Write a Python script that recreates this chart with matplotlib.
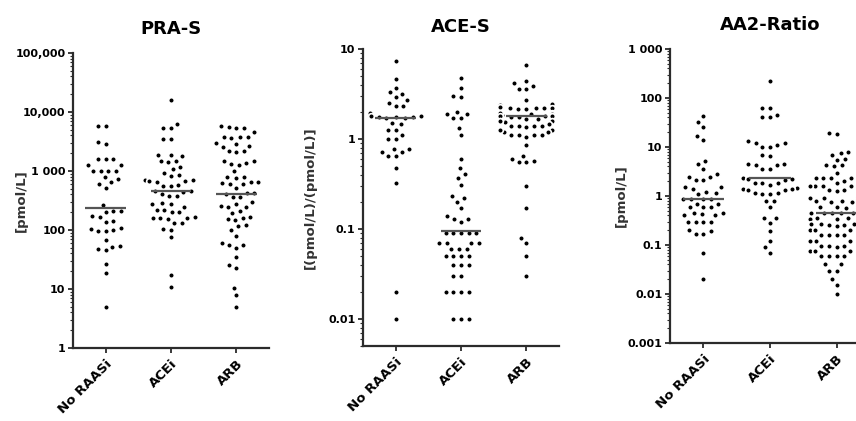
import numpy as np
import pandas as pd
import matplotlib
matplotlib.use("Agg")
import matplotlib.pyplot as plt
import matplotlib.ticker as mticker
import seaborn as sns

plt.rcParams['font.family'] = ['DejaVu Sans']
plt.rcParams['font.weight'] = 'bold'

groups = ["No RAASi", "ACEi", "ARB"]

# PRA-S [pmol/L]
pra_no = [5900, 5700, 3150, 2900, 1600, 1600, 1600, 1250, 1250, 1000, 1000, 1000, 1000,
          780, 720, 650, 600, 520, 270, 210, 210, 205, 170, 165, 140, 135, 110, 105, 100,
          95, 95, 68, 53, 48, 52, 45, 27, 19, 5]
pra_ace = [15800, 6300, 5300, 5300, 3500, 3500, 1850, 1780, 1900, 1500, 1450, 1400, 1150,
           1100, 940, 860, 830, 700, 700, 690, 670, 650, 590, 550, 550, 460, 450, 440, 410,
           370, 370, 290, 280, 280, 250, 220, 220, 200, 200, 165, 160, 160, 160, 155, 130,
           130, 105, 100, 75, 17, 11]
pra_arb = [5800, 5500, 5400, 5300, 4500, 3800, 3800, 3700, 3600, 3000, 2900, 2700, 2600,
           2200, 2150, 2100, 1500, 1500, 1350, 1300, 1250, 1000, 800, 780, 760, 650, 640,
           620, 600, 600, 520, 430, 420, 410, 360, 360, 300, 280, 260, 250, 250, 210, 195,
           165, 160, 155, 150, 120, 115, 100, 80, 60, 55, 55, 49, 35, 26, 23, 10.5, 8, 5]
pra_median = [240, 450, 400]

# ACE-S [(pmol/L)/(pmol/L)]
ace_no = [7.4, 4.6, 3.7, 3.3, 3.2, 2.9, 2.7, 2.5, 2.3, 2.3, 1.95, 1.8, 1.8, 1.75, 1.75,
          1.7, 1.7, 1.75, 1.5, 1.45, 1.27, 1.27, 1.1, 1.0, 1.0, 0.77, 0.77, 0.72, 0.72,
          0.64, 0.64, 0.47, 0.32, 0.02, 0.01]
ace_ace = [4.8, 3.7, 3.0, 2.9, 2.0, 1.9, 1.9, 1.7, 1.7, 1.32, 1.1, 0.6, 0.47, 0.41, 0.37,
           0.31, 0.23, 0.22, 0.2, 0.17, 0.14, 0.13, 0.13, 0.12, 0.09, 0.09, 0.09, 0.09,
           0.09, 0.07, 0.07, 0.07, 0.07, 0.06, 0.06, 0.06, 0.05, 0.05, 0.05, 0.05, 0.04,
           0.04, 0.04, 0.03, 0.03, 0.02, 0.02, 0.02, 0.02, 0.01, 0.01, 0.01]
ace_arb = [6.7, 4.4, 4.2, 3.9, 3.6, 3.6, 2.7, 2.45, 2.4, 2.4, 2.4, 2.35, 2.4, 2.45,
           2.2, 2.2, 2.15, 2.2, 2.2, 2.25, 2.2, 2.15, 1.95, 1.9, 1.9, 1.9, 1.85, 1.95,
           1.8, 1.8, 1.75, 1.8, 1.8, 1.75, 1.6, 1.6, 1.65, 1.6, 1.55, 1.6, 1.6, 1.65,
           1.4, 1.4, 1.45, 1.4, 1.35, 1.4, 1.25, 1.25, 1.2, 1.25, 1.25, 1.2, 1.1, 1.1,
           1.05, 1.1, 1.1, 0.85, 0.65, 0.6, 0.57, 0.55, 0.55, 0.3, 0.17, 0.08, 0.07,
           0.05, 0.03]
ace_median = [1.7, 0.095, 1.8]

# AA2-Ratio [pmol/L]
aa2_no = [43, 33, 26, 17, 14, 5.2, 4.5, 3.5, 2.8, 2.5, 2.4, 2.1, 2.1, 1.5, 1.5, 1.4, 1.2,
          1.15, 1.1, 0.87, 0.87, 0.87, 0.85, 0.7, 0.7, 0.6, 0.6, 0.6, 0.45, 0.45, 0.42,
          0.4, 0.4, 0.3, 0.3, 0.3, 0.3, 0.2, 0.19, 0.17, 0.17, 0.07, 0.02]
aa2_ace = [220, 62, 62, 45, 40, 40, 13, 12, 12, 11, 10, 10, 7, 6.5, 4.4, 4.4, 4.3, 4.2,
           3.5, 3.5, 2.3, 2.2, 2.2, 2.1, 1.8, 1.8, 1.8, 1.7, 1.45, 1.4, 1.4, 1.35, 1.3,
           1.15, 1.15, 1.1, 1.1, 0.8, 0.8, 0.6, 0.35, 0.35, 0.28, 0.19, 0.12, 0.09, 0.07]
aa2_arb = [19, 18, 8, 7.5, 7, 5.7, 5.5, 4.2, 4.2, 4.0, 2.9, 2.3, 2.3, 2.3, 2.3, 2.3, 2.0,
           1.8, 1.6, 1.6, 1.6, 1.6, 1.6, 1.3, 1.3, 1.25, 0.9, 0.9, 0.9, 0.9, 0.9, 0.8,
           0.78, 0.75, 0.75, 0.6, 0.6, 0.58, 0.6, 0.45, 0.45, 0.45, 0.45, 0.45, 0.35,
           0.35, 0.34, 0.34, 0.35, 0.33, 0.27, 0.27, 0.26, 0.27, 0.26, 0.24, 0.2, 0.2,
           0.2, 0.2, 0.2, 0.16, 0.16, 0.16, 0.16, 0.12, 0.12, 0.12, 0.12, 0.095, 0.095,
           0.09, 0.095, 0.075, 0.075, 0.075, 0.075, 0.06, 0.06, 0.06, 0.06, 0.04, 0.04,
           0.03, 0.03, 0.02, 0.015, 0.01]
aa2_median = [0.87, 2.3, 0.45]

pra_ticks = [1, 10, 100, 1000, 10000, 100000]
pra_labels = ["1", "10", "100", "1 000", "10,000", "100,000"]
ace_ticks = [0.01, 0.1, 1, 10]
ace_labels = ["0.01", "0.1", "1", "10"]
aa2_ticks = [0.001, 0.01, 0.1, 1, 10, 100, 1000]
aa2_labels = ["0.001", "0.01", "0.1", "1", "10", "100", "1 000"]

W, H = 856, 421
fig = plt.figure(figsize=(W / 100, H / 100), dpi=100)


def px_axes(l, t, r, b):
    return fig.add_axes([l / W, 1 - b / H, (r - l) / W, (b - t) / H])


panels = [
    (px_axes(73, 53, 269, 348), "PRA-S", "[pmol/L]", [pra_no, pra_ace, pra_arb], pra_median,
     (1, 1e5), pra_ticks, pra_labels, 13.7, -0.23),
    (px_axes(363, 49, 559, 346), "ACE-S", "[(pmol/L)/(pmol/L)]", [ace_no, ace_ace, ace_arb],
     ace_median, (0.005, 10), ace_ticks, ace_labels, 12.2, -0.235),
    (px_axes(670, 49, 870, 343), "AA2-Ratio", "[pmol/L]", [aa2_no, aa2_ace, aa2_arb],
     aa2_median, (0.001, 1000), aa2_ticks, aa2_labels, 13.7, -0.21),
]

axc = "#2b2b2b"
for ax, title, ylab, vals, med, ylim, ticks, labels, tpad, labx in panels:
    df = pd.DataFrame({
        "group": sum([[g] * len(v) for g, v in zip(groups, vals)], []),
        "value": sum(vals, []),
    })
    ax.set_yscale("log")
    ax.set_ylim(*ylim)
    # white edge keeps the dots small but spaces them like the Prism swarm
    sns.swarmplot(data=df, x="group", y="value", order=groups, color="black",
                  size=4.1, linewidth=1.2, edgecolor="white", ax=ax)
    for i, m in enumerate(med):
        ax.hlines(m, i - 0.31, i + 0.31, color="#555555", lw=1.6, zorder=5)

    ax.set_xlim(-0.5, 2.5)
    ax.set_ylim(*ylim)
    ax.set_yticks(ticks, labels)
    ax.yaxis.set_minor_locator(mticker.LogLocator(base=10, subs=np.arange(2, 10), numticks=100))
    ax.yaxis.set_minor_formatter(mticker.NullFormatter())
    ax.set_xticks(range(3), groups, rotation=45, ha="right", rotation_mode="anchor")

    for s in ["top", "right"]:
        ax.spines[s].set_visible(False)
    for s in ["left", "bottom"]:
        ax.spines[s].set_linewidth(1.6)
        ax.spines[s].set_color(axc)
    ax.tick_params(axis="y", which="major", length=3.5, width=1.3, color=axc,
                   labelsize=8, pad=2)
    ax.tick_params(axis="y", which="minor", length=2, width=0.8, color=axc)
    ax.tick_params(axis="x", length=3.5, width=1.3, color=axc, labelsize=9.5, pad=3)
    for t in ax.get_xticklabels() + ax.get_yticklabels():
        t.set_fontweight("bold")

    ax.set_xlabel("")
    ax.set_ylabel(ylab, fontsize=9.5, fontweight="bold", color="#333333")
    ax.yaxis.set_label_coords(labx, 0.5)
    ax.set_title(title, fontsize=13, fontweight="bold", pad=tpad)

fig.savefig("out.png", dpi=100)
